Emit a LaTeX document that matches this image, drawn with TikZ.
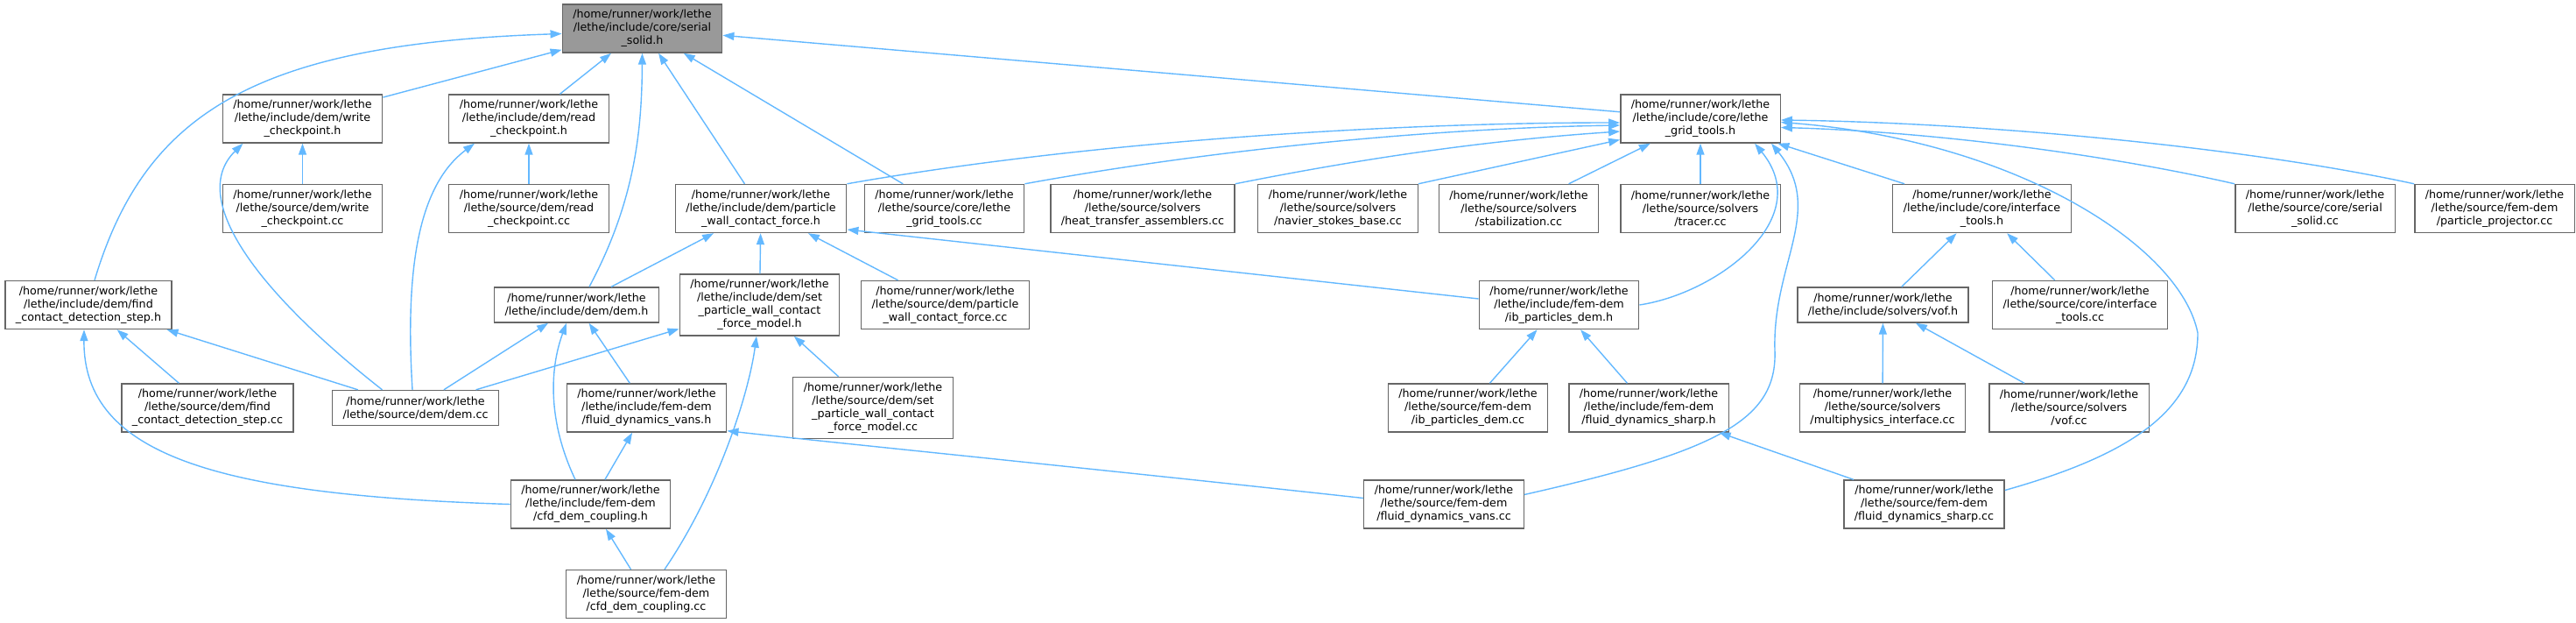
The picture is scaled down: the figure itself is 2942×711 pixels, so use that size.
\documentclass[tikz,border=0pt]{standalone}
\usepackage{fontspec}
\setmainfont{DejaVu Sans}
\usetikzlibrary{arrows.meta}
\definecolor{edgeblue}{HTML}{63B8FF}
\definecolor{boxgrey}{HTML}{666666}
\definecolor{rootgrey}{HTML}{999999}

\begin{document}
\begin{tikzpicture}[x=1pt, y=-1pt,
  >={Triangle[length=13pt,width=9pt]},
  filebox/.style={draw=boxgrey, fill=white, line width=1.4pt, align=center,
    font=\fontsize{12.7}{15}\selectfont, inner xsep=12pt, inner ysep=4pt,
    minimum height=55pt},
  rootbox/.style={filebox, fill=rootgrey},
  two/.style={minimum height=40pt},
  four/.style={minimum height=70pt},
  dep/.style={->, edgeblue, line width=1.4pt}]
  \useasboundingbox (0,0) rectangle (2942,711);

  % the header itself
  \node[rootbox] (serial) at (733.5,32.5) {/home/runner/work/lethe\\/lethe/include/core/serial\\\_solid.h};
  % first rank
  \node[filebox] (wrh) at (345.5,135.5) {/home/runner/work/lethe\\/lethe/include/dem/write\\\_checkpoint.h};
  \node[filebox] (rdh) at (604,135.5) {/home/runner/work/lethe\\/lethe/include/dem/read\\\_checkpoint.h};
  \node[filebox] (grid) at (1942,135.5) {/home/runner/work/lethe\\/lethe/include/core/lethe\\\_grid\_tools.h};
  % second rank
  \node[filebox] (wrcc) at (345.5,238) {/home/runner/work/lethe\\/lethe/source/dem/write\\\_checkpoint.cc};
  \node[filebox] (rdcc) at (604,238) {/home/runner/work/lethe\\/lethe/source/dem/read\\\_checkpoint.cc};
  \node[filebox] (pwcf) at (869,238) {/home/runner/work/lethe\\/lethe/include/dem/particle\\\_wall\_contact\_force.h};
  \node[filebox] (gridcc) at (1078.5,238) {/home/runner/work/lethe\\/lethe/source/core/lethe\\\_grid\_tools.cc};
  \node[filebox] (heat) at (1305,238) {/home/runner/work/lethe\\/lethe/source/solvers\\/heat\_transfer\_assemblers.cc};
  \node[filebox] (navier) at (1528,238) {/home/runner/work/lethe\\/lethe/source/solvers\\/navier\_stokes\_base.cc};
  \node[filebox] (stab) at (1734.5,238) {/home/runner/work/lethe\\/lethe/source/solvers\\/stabilization.cc};
  \node[filebox] (tracer) at (1942,238) {/home/runner/work/lethe\\/lethe/source/solvers\\/tracer.cc};
  \node[filebox] (itools) at (2263.5,238) {/home/runner/work/lethe\\/lethe/include/core/interface\\\_tools.h};
  \node[filebox] (serialcc) at (2644,238) {/home/runner/work/lethe\\/lethe/source/core/serial\\\_solid.cc};
  \node[filebox] (projector) at (2849,238) {/home/runner/work/lethe\\/lethe/source/fem-dem\\/particle\_projector.cc};
  % third rank
  \node[filebox] (find) at (101,348) {/home/runner/work/lethe\\/lethe/include/dem/find\\\_contact\_detection\_step.h};
  \node[filebox, two] (demh) at (658.5,348) {/home/runner/work/lethe\\/lethe/include/dem/dem.h};
  \node[filebox, four] (setmodel) at (867.5,348) {/home/runner/work/lethe\\/lethe/include/dem/set\\\_particle\_wall\_contact\\\_force\_model.h};
  \node[filebox] (pwcfcc) at (1079.5,348) {/home/runner/work/lethe\\/lethe/source/dem/particle\\\_wall\_contact\_force.cc};
  \node[filebox] (ibh) at (1780.5,348) {/home/runner/work/lethe\\/lethe/include/fem-dem\\/ib\_particles\_dem.h};
  \node[filebox, two] (vofh) at (2150.5,348) {/home/runner/work/lethe\\/lethe/include/solvers/vof.h};
  \node[filebox] (itoolscc) at (2375.5,348) {/home/runner/work/lethe\\/lethe/source/core/interface\\\_tools.cc};
  % fourth rank
  \node[filebox] (findcc) at (237,465.5) {/home/runner/work/lethe\\/lethe/source/dem/find\\\_contact\_detection\_step.cc};
  \node[filebox, two] (demcc) at (474.5,465.5) {/home/runner/work/lethe\\/lethe/source/dem/dem.cc};
  \node[filebox] (vansh) at (738.5,465.5) {/home/runner/work/lethe\\/lethe/include/fem-dem\\/fluid\_dynamics\_vans.h};
  \node[filebox, four] (setmodelcc) at (997,465.5) {/home/runner/work/lethe\\/lethe/source/dem/set\\\_particle\_wall\_contact\\\_force\_model.cc};
  \node[filebox] (ibcc) at (1676.5,465.5) {/home/runner/work/lethe\\/lethe/source/fem-dem\\/ib\_particles\_dem.cc};
  \node[filebox] (sharph) at (1883,465.5) {/home/runner/work/lethe\\/lethe/include/fem-dem\\/fluid\_dynamics\_sharp.h};
  \node[filebox] (multi) at (2150,465.5) {/home/runner/work/lethe\\/lethe/source/solvers\\/multiphysics\_interface.cc};
  \node[filebox] (vofcc) at (2363,465.5) {/home/runner/work/lethe\\/lethe/source/solvers\\/vof.cc};
  % fifth and sixth rank
  \node[filebox] (cfdh) at (674.5,575.5) {/home/runner/work/lethe\\/lethe/include/fem-dem\\/cfd\_dem\_coupling.h};
  \node[filebox] (vanscc) at (1649,575.5) {/home/runner/work/lethe\\/lethe/source/fem-dem\\/fluid\_dynamics\_vans.cc};
  \node[filebox] (sharpcc) at (2197.5,575.5) {/home/runner/work/lethe\\/lethe/source/fem-dem\\/fluid\_dynamics\_sharp.cc};
  \node[filebox] (cfdcc) at (738,678) {/home/runner/work/lethe\\/lethe/source/fem-dem\\/cfd\_dem\_coupling.cc};

  % who includes serial_solid.h
  \draw[dep] ([xshift=7pt]find.north) .. controls (165,130) and (290,50) .. ([yshift=-6pt]serial.west);
  \draw[dep] (wrh) -- (serial);
  \draw[dep] (rdh) -- (serial);
  \draw[dep] ([xshift=14.5pt]demh.north) .. controls (725,230) and (733,150) .. (serial.south);
  \draw[dep] (pwcf) -- (serial);
  \draw[dep] (gridcc) -- (serial);
  \draw[dep] (grid) -- (serial);
  % who includes lethe_grid_tools.h
  \draw[dep] (pwcf.north east) .. controls (1250,160) and (1600,140) .. ([yshift=-4.5pt]grid.west);
  \draw[dep] (gridcc.north east) .. controls (1400,168) and (1650,146) .. ([yshift=-7.5pt]grid.west);
  \draw[dep] (heat.north east) .. controls (1560,180) and (1700,160) .. ([yshift=-14.5pt]grid.west);
  \draw[dep] (navier.north east) -- ([yshift=-24pt]grid.west);
  \draw[dep] (stab) -- (grid);
  \draw[dep] (tracer) -- (grid);
  \draw[dep] (ibh.east) .. controls (1960,335) and (2075,250) .. ([xshift=62pt]grid.south);
  \draw[dep] ([yshift=11pt]vanscc.east) .. controls (1960,515) and (2030,480) .. (2027,400)
    .. controls (2024,300) and (2085,240) .. ([xshift=81pt]grid.south);
  \draw[dep] (itools) -- (grid);
  \draw[dep] (serialcc.north west) .. controls (2400,175) and (2200,150) .. ([yshift=-10pt]grid.east);
  \draw[dep] (projector.north west) .. controls (2550,165) and (2250,140) .. ([yshift=-1.5pt]grid.east);
  \draw[dep] ([yshift=16pt]sharpcc.east) .. controls (2430,520) and (2510,470) .. (2510,380)
    .. controls (2490,280) and (2300,160) .. ([yshift=-4pt]grid.east);
  % particle_wall_contact_force.h
  \draw[dep] (demh) -- (pwcf);
  \draw[dep] (setmodel) -- (pwcf);
  \draw[dep] (pwcfcc) -- (pwcf);
  \draw[dep] ([yshift=7pt]ibh.west) -- ([yshift=-24pt]pwcf.east);
  % checkpoints
  \draw[dep] (wrcc) -- (wrh);
  \draw[dep] (rdcc) -- (rdh);
  \draw[dep] ([xshift=-38pt]demcc.north) .. controls (290,330) and (215,225) .. ([xshift=-68pt]wrh.south);
  \draw[dep] ([xshift=-3.5pt]demcc.north) .. controls (462,300) and (480,210) .. ([xshift=-62pt]rdh.south);
  % find_contact_detection_step.h
  \draw[dep] (findcc) -- (find);
  \draw[dep] (demcc) -- (find);
  \draw[dep] (cfdh.west) .. controls (250,565) and (95,520) .. ([xshift=-5pt]find.south);
  % dem.h
  \draw[dep] (demcc) -- (demh);
  \draw[dep] (vansh) -- (demh);
  \draw[dep] ([xshift=-17.5pt]cfdh.north) .. controls (625,480) and (628,420) .. ([xshift=-11.5pt]demh.south);
  % set_particle_wall_contact_force_model.h
  \draw[dep] (demcc) -- (setmodel);
  \draw[dep] (setmodelcc) -- (setmodel);
  \draw[dep] ([xshift=21pt]cfdcc.north) .. controls (820,560) and (855,450) .. ([xshift=-3.5pt]setmodel.south);
  % fem-dem headers
  \draw[dep] (cfdh) -- (vansh);
  \draw[dep] ([yshift=7pt]vanscc.west) .. controls (1250,535) and (950,505) .. ([yshift=2pt]vansh.south east);
  \draw[dep] (cfdcc) -- (cfdh);
  \draw[dep] (ibcc) -- (ibh);
  \draw[dep] (sharph) -- (ibh);
  \draw[dep] (sharpcc) -- (sharph);
  % interface tools and vof
  \draw[dep] (vofh) -- (itools);
  \draw[dep] (itoolscc) -- (itools);
  \draw[dep] (multi) -- (vofh);
  \draw[dep] (vofcc) -- (vofh);
\end{tikzpicture}
\end{document}
